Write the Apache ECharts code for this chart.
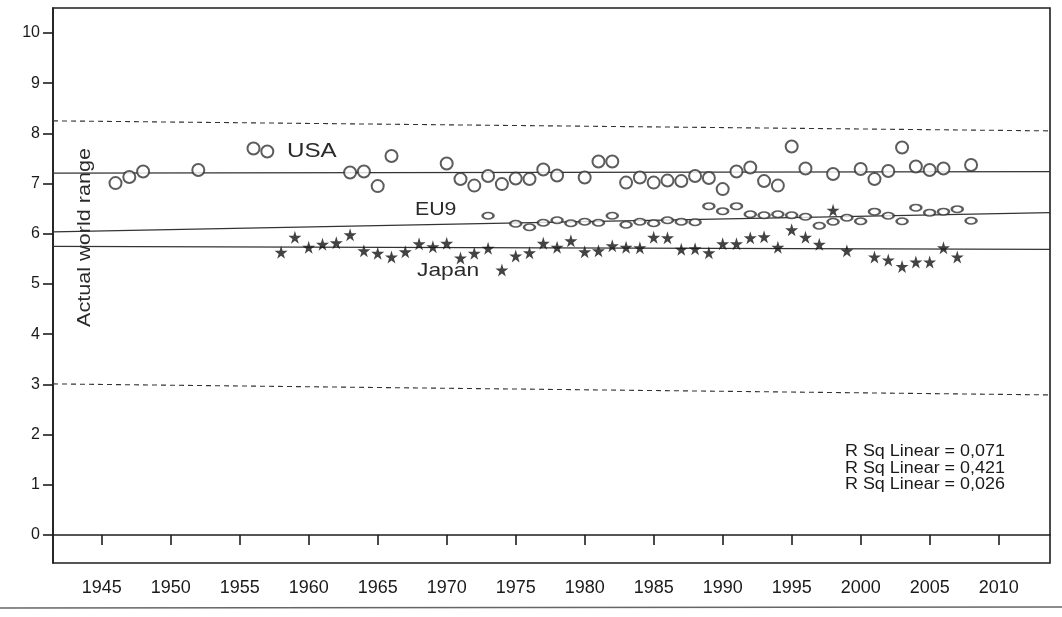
<!DOCTYPE html>
<html>
<head>
<meta charset="utf-8">
<script src="https://cdn.jsdelivr.net/npm/echarts@6/dist/echarts.min.js"></script>
<style>
html,body{margin:0;padding:0;background:#fff;}
#chart{width:1062px;height:617px;}
</style>
</head>
<body>
<div id="chart"></div>
<script>
// ---- data ----
const usaYears = [1946,1947,1948,1952,1956,1957,1963,1964,1965,1966,1970,1971,1972,1973,1974,1975,1976,1977,1978,1980,1981,1982,1983,1984,1985,1986,1987,1988,1989,1990,1991,1992,1993,1994,1995,1996,1998,2000,2001,2002,2003,2004,2005,2006,2008];
const usaValues = [7.01,7.13,7.24,7.27,7.70,7.64,7.22,7.24,6.95,7.55,7.40,7.09,6.96,7.15,6.99,7.10,7.09,7.28,7.16,7.12,7.44,7.44,7.02,7.12,7.02,7.06,7.05,7.15,7.11,6.89,7.24,7.32,7.05,6.96,7.74,7.30,7.19,7.29,7.09,7.25,7.72,7.34,7.27,7.30,7.37];

const eu9Years = [1973,1975,1976,1977,1978,1979,1980,1981,1982,1983,1984,1985,1986,1987,1988,1989,1990,1991,1992,1993,1994,1995,1996,1997,1998,1999,2000,2001,2002,2003,2004,2005,2006,2007,2008];
const eu9Values = [6.36,6.20,6.13,6.22,6.27,6.21,6.24,6.22,6.36,6.18,6.24,6.21,6.27,6.24,6.23,6.55,6.45,6.55,6.39,6.37,6.39,6.37,6.34,6.16,6.24,6.32,6.25,6.44,6.36,6.25,6.52,6.42,6.44,6.49,6.26];

const japanYears = [1958,1959,1960,1961,1962,1963,1964,1965,1966,1967,1968,1969,1970,1971,1972,1973,1974,1975,1976,1977,1978,1979,1980,1981,1982,1983,1984,1985,1986,1987,1988,1989,1990,1991,1992,1993,1994,1995,1996,1997,1998,1999,2001,2002,2003,2004,2005,2006,2007];
const japanValues = [5.63,5.93,5.73,5.79,5.82,5.98,5.66,5.61,5.54,5.64,5.80,5.74,5.81,5.52,5.61,5.71,5.28,5.56,5.62,5.81,5.73,5.86,5.64,5.66,5.76,5.73,5.72,5.93,5.92,5.69,5.70,5.62,5.80,5.80,5.92,5.94,5.73,6.08,5.93,5.79,6.47,5.66,5.54,5.48,5.35,5.44,5.44,5.72,5.54];

// line ends (x in years, y in values) for fit lines and reference lines
const lineEnds = [1941.47, 2013.72];
const usaFit = [7.21, 7.24];
const eu9Fit = [6.04, 6.42];
const japanFit = [5.75, 5.69];
const upperRef = [8.25, 8.05];
const lowerRef = [3.01, 2.79];

const xTickValues = [1945,1950,1955,1960,1965,1970,1975,1980,1985,1990,1995,2000,2005,2010];
const yTickValues = [0,1,2,3,4,5,6,7,8,9,10];
const yRange = [-0.558, 10.498];

const seriesLabels = ['USA','EU9','Japan'];
const rsqLabels = ['R Sq Linear = 0,071','R Sq Linear = 0,421','R Sq Linear = 0,026'];
const yTitle = 'Actual world range';

// ---- build ----
const zip = (xs, ys) => xs.map((x, i) => [x, ys[i]]);
const seg = ys => [[lineEnds[0], ys[0]], [lineEnds[1], ys[1]]];
const STAR = 'path://M50,0 L61,35 L98,35 L68,57 L79,91 L50,70 L21,91 L32,57 L2,35 L39,35 Z';
const FONT = '"Liberation Sans", Arial, sans-serif';
const INK = '#1e1e1e';

function lineSeries(ys, dashed) {
  return {
    type: 'line', data: seg(ys), symbol: 'none', silent: true, z: 1,
    lineStyle: { color: '#333', width: dashed ? 1.1 : 1.3, type: dashed ? [5, 4] : 'solid' }
  };
}

const chart = echarts.init(document.getElementById('chart'), null, { renderer: 'canvas' });
chart.setOption({
  animation: false,
  backgroundColor: '#fff',
  grid: { left: 53, right: 12, top: 8, bottom: 54, show: true, borderColor: INK, borderWidth: 1.6, backgroundColor: 'transparent' },
  xAxis: {
    type: 'value', min: lineEnds[0], max: lineEnds[1],
    axisLine: { show: true, lineStyle: { color: INK, width: 1.6 } },
    axisTick: { show: true, customValues: xTickValues, length: 10, lineStyle: { color: INK, width: 1.6 } },
    axisLabel: { customValues: xTickValues, fontSize: 18, fontFamily: FONT, color: '#1a1a1a', margin: 16, formatter: v => String(Math.round(v)) },
    splitLine: { show: false }
  },
  yAxis: {
    type: 'value', min: yRange[0], max: yRange[1],
    axisLine: { show: true, lineStyle: { color: INK, width: 1.6 } },
    axisTick: { show: true, customValues: yTickValues, length: 10, lineStyle: { color: INK, width: 1.6 } },
    axisLabel: { customValues: yTickValues, fontSize: 16, fontFamily: FONT, color: '#1a1a1a', margin: 13, formatter: v => String(Math.round(v)) },
    splitLine: { show: false }
  },
  series: [
    lineSeries(upperRef, true),
    lineSeries(lowerRef, true),
    lineSeries(usaFit, false),
    lineSeries(eu9Fit, false),
    lineSeries(japanFit, false),
    {
      name: seriesLabels[0], type: 'scatter', data: zip(usaYears, usaValues), z: 3,
      symbol: 'circle', symbolSize: 12,
      itemStyle: { color: '#fff', borderColor: '#333', borderWidth: 2 }
    },
    {
      name: seriesLabels[1], type: 'scatter', data: zip(eu9Years, eu9Values), z: 3,
      symbol: 'circle', symbolSize: [11, 6.5],
      itemStyle: { color: '#fff', borderColor: '#333', borderWidth: 2 }
    },
    {
      name: seriesLabels[2], type: 'scatter', data: zip(japanYears, japanValues), z: 4,
      symbol: STAR, symbolSize: 13,
      itemStyle: { color: '#141414' }
    }
  ],
  graphic: [
    { type: 'text', x: 85, y: 237.5, rotation: Math.PI / 2, scaleX: 1.2,
      style: { text: yTitle, font: '18px ' + FONT, fill: '#2a2a2a', textAlign: 'center', textVerticalAlign: 'middle' } },
    { type: 'text', x: 287, y: 151, scaleX: 1.15,
      style: { text: seriesLabels[0], font: '21px ' + FONT, fill: '#2a2a2a', textAlign: 'left', textVerticalAlign: 'middle' } },
    { type: 'text', x: 415, y: 210, scaleX: 1.12,
      style: { text: seriesLabels[1], font: '19px ' + FONT, fill: '#2a2a2a', textAlign: 'left', textVerticalAlign: 'middle' } },
    { type: 'text', x: 417, y: 271, scaleX: 1.2,
      style: { text: seriesLabels[2], font: '19px ' + FONT, fill: '#2a2a2a', textAlign: 'left', textVerticalAlign: 'middle' } },
    { type: 'text', x: 845, y: 452, scaleX: 1.12,
      style: { text: rsqLabels[0], font: '16px ' + FONT, fill: '#1a1a1a', textAlign: 'left', textVerticalAlign: 'middle' } },
    { type: 'text', x: 845, y: 468.5, scaleX: 1.12,
      style: { text: rsqLabels[1], font: '16px ' + FONT, fill: '#1a1a1a', textAlign: 'left', textVerticalAlign: 'middle' } },
    { type: 'text', x: 845, y: 485, scaleX: 1.12,
      style: { text: rsqLabels[2], font: '16px ' + FONT, fill: '#1a1a1a', textAlign: 'left', textVerticalAlign: 'middle' } },
    { type: 'line', shape: { x1: 0, y1: 608, x2: 1062, y2: 607 }, style: { stroke: '#666', lineWidth: 1.5 } }
  ]
});
</script>
</body>
</html>
